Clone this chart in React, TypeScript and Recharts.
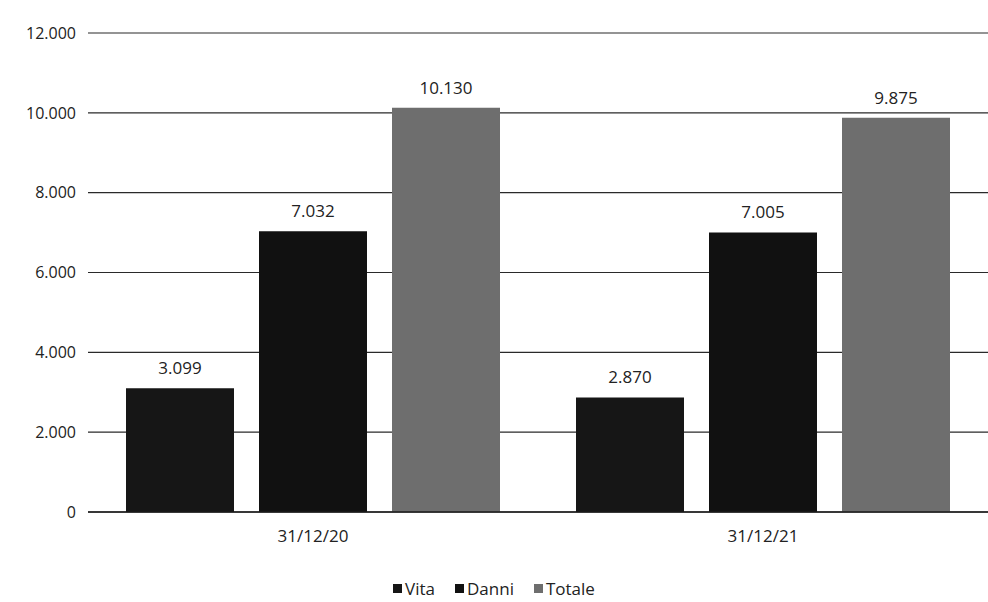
import React from 'react';
import { BarChart, Bar, XAxis, YAxis, CartesianGrid, Legend, LabelList } from 'recharts';

// values (thousands)
const dates = ['31/12/20', '31/12/21'];
const vita = [3099, 2870];
const danni = [7032, 7005];
const totale = [10130, 9875];
const yTicks = [0, 2000, 4000, 6000, 8000, 10000, 12000];

const seriesNames = ['Vita', 'Danni', 'Totale'];
const seriesColors = ['#161616', '#111111', '#6e6e6e'];

const data = dates.map((d, i) => ({ date: d, Vita: vita[i], Danni: danni[i], Totale: totale[i] }));

// Italian thousand separator
const fmt = (v: number) => String(v).replace(/\B(?=(\d{3})+(?!\d))/g, '.');

const FONT = '"Open Sans", "Noto Sans", sans-serif';

const LegendContent = () => (
  <div style={{ display: 'flex', justifyContent: 'center', gap: 20, fontFamily: FONT, fontSize: 17, color: '#222', paddingTop: 9 }}>
    {seriesNames.map((n, i) => (
      <span key={n} style={{ display: 'flex', alignItems: 'center' }}>
        <span style={{ width: 9, height: 9, background: seriesColors[i], marginRight: 3, display: 'inline-block' }} />
        {n}
      </span>
    ))}
  </div>
);

export default function App() {
  return (
    <div style={{ position: 'absolute', left: 0, top: 0, width: 988, height: 602, background: '#fff' }}>
      <BarChart
        width={988}
        height={602}
        data={data}
        margin={{ top: 33, right: 0, left: 0, bottom: 4 }}
        barGap={25}
        barCategoryGap={40}
      >
        <CartesianGrid vertical={false} stroke="#2a2a2a" strokeWidth={1.2} />
        <XAxis
          dataKey="date"
          height={56}
          tickLine={false}
          axisLine={{ stroke: '#1a1a1a', strokeWidth: 1.5 }}
          tickMargin={12}
          tick={{ fill: '#222', fontSize: 17, fontFamily: FONT }}
        />
        <YAxis
          width={88}
          domain={[0, 12000]}
          ticks={yTicks}
          tickFormatter={fmt}
          axisLine={false}
          tickLine={false}
          tickMargin={6}
          tick={{ fill: '#222', fontSize: 16, fontFamily: FONT }}
        />
        <Legend verticalAlign="bottom" height={30} content={<LegendContent />} />
        {seriesNames.map((n, i) => (
          <Bar key={n} dataKey={n} fill={seriesColors[i]} barSize={108} isAnimationActive={false}>
            <LabelList
              dataKey={n}
              position="top"
              offset={14}
              formatter={(v: number) => fmt(v)}
              style={{ fill: '#222', fontSize: 17, fontFamily: FONT }}
            />
          </Bar>
        ))}
      </BarChart>
    </div>
  );
}
